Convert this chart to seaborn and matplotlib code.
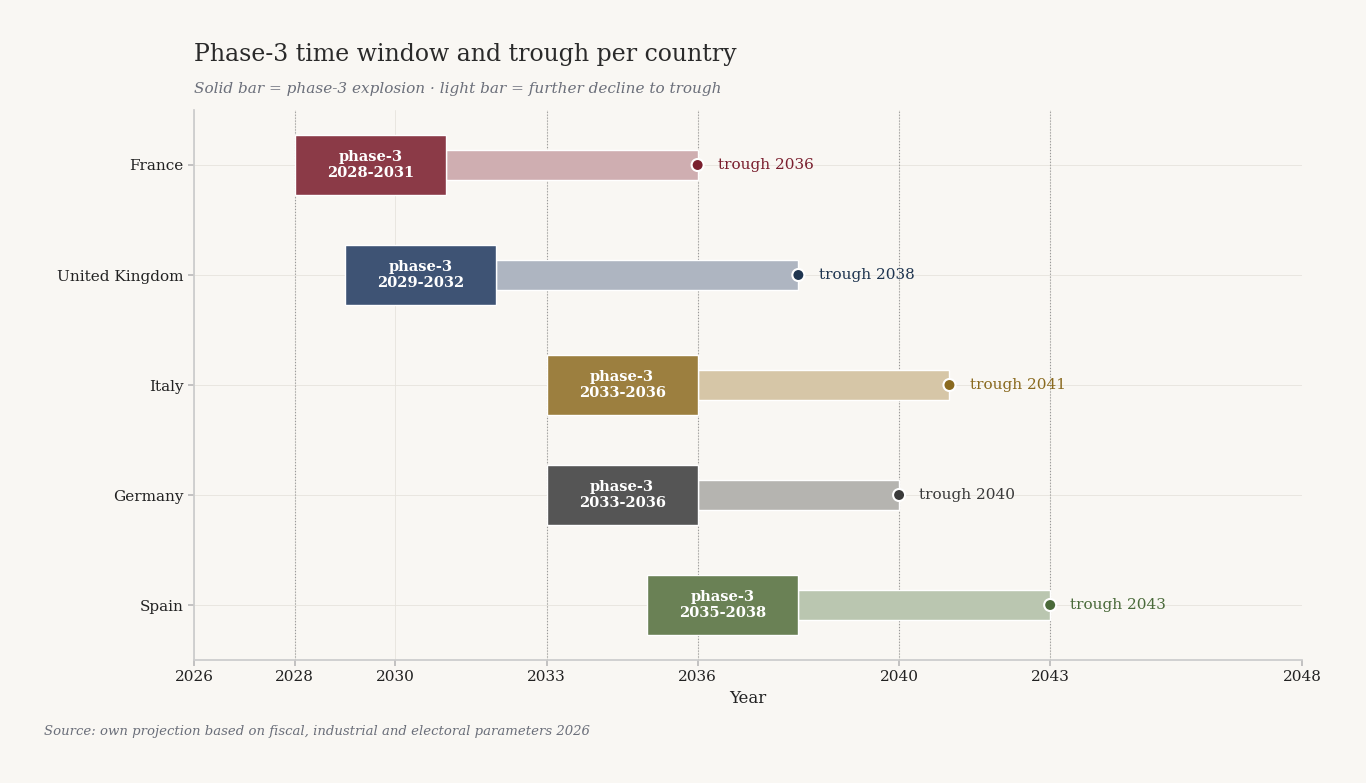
import matplotlib
matplotlib.use("Agg")
import matplotlib.pyplot as plt
import seaborn as sns
import pandas as pd

countries = ["France", "United Kingdom", "Italy", "Germany", "Spain"]
phase_start = [2028, 2029, 2033, 2033, 2035]
phase_end = [2031, 2032, 2036, 2036, 2038]
trough = [2036, 2038, 2041, 2040, 2043]
solid_colors = ["#8B3A47", "#3E5374", "#9C7F3F", "#555555", "#6A8155"]
light_colors = ["#CFAEB1", "#AEB5C1", "#D6C6A7", "#B5B4B0", "#BAC6B0"]
dot_colors = ["#7A1F2E", "#1F3550", "#8A6A1F", "#3A3A3A", "#4A6A3A"]
xticks = [2026, 2028, 2030, 2033, 2036, 2040, 2043, 2048]
marked_years = [2028, 2033, 2036, 2040, 2043]

df = pd.DataFrame({"country": countries, "start": phase_start,
                   "end": phase_end, "trough": trough})

bg = "#F9F7F3"
sns.set_theme(style="white")
plt.rcParams["font.family"] = ["DejaVu Serif"]

fig = plt.figure(figsize=(13.66, 7.83), dpi=100, facecolor=bg)
ax = fig.add_axes([194/1366, 1-660/783, (1302-194)/1366, (660-110)/783], facecolor=bg)

y = list(range(len(countries)))
for i, r in df.iterrows():
    ax.barh(i, r.trough - r.end, left=r.end, height=0.28, color=light_colors[i], zorder=2)
    ax.barh(i, r.end - r.start, left=r.start, height=0.55, color=solid_colors[i], zorder=3)
    ax.text((r.start + r.end) / 2, i, f"phase-3\n{r.start}-{r.end}", ha="center", va="center",
            color="white", fontsize=10.5, fontweight="bold", zorder=4, linespacing=1.1)
    ax.text(r.trough + 0.4, i, f"trough {r.trough}", ha="left", va="center",
            color=dot_colors[i], fontsize=11, zorder=4)

sns.scatterplot(data=df, x="trough", y=y, hue="country", palette=dot_colors,
                s=75, edgecolor="white", linewidth=1.5, legend=False, zorder=5, ax=ax)

for yr in marked_years:
    ax.axvline(yr, color="#999999", linestyle=":", linewidth=0.8, zorder=1)
for t in xticks:
    ax.axvline(t, color="#E6E3DD", linewidth=0.6, zorder=0)
for i in y:
    ax.axhline(i, color="#E6E3DD", linewidth=0.6, zorder=0)

ax.set_xlim(2026, 2048)
ax.set_ylim(len(countries) - 0.5, -0.5)
ax.set_xticks(xticks)
ax.set_xticklabels([str(t) for t in xticks], fontsize=11, color="#222222")
ax.set_yticks(y)
ax.set_yticklabels(countries, fontsize=11, color="#222222")
ax.tick_params(axis="both", length=4, color="#BBBBBB", left=True, bottom=True)
ax.set_xlabel("Year", fontsize=12, color="#222222")
ax.set_ylabel("")
for s in ["top", "right"]:
    ax.spines[s].set_visible(False)
for s in ["left", "bottom"]:
    ax.spines[s].set_color("#CCCCCC")

fig.text(194/1366, 1-55/783, "Phase-3 time window and trough per country",
         fontsize=17, color="#2A2A2A", va="center")
fig.text(194/1366, 1-89/783, "Solid bar = phase-3 explosion · light bar = further decline to trough",
         fontsize=11, style="italic", color="#6B6F7A", va="center")
fig.text(44/1366, 1-732/783, "Source: own projection based on fiscal, industrial and electoral parameters 2026",
         fontsize=9.5, style="italic", color="#6B6F7A", va="center")

fig.savefig("out.png", dpi=100, facecolor=bg)
